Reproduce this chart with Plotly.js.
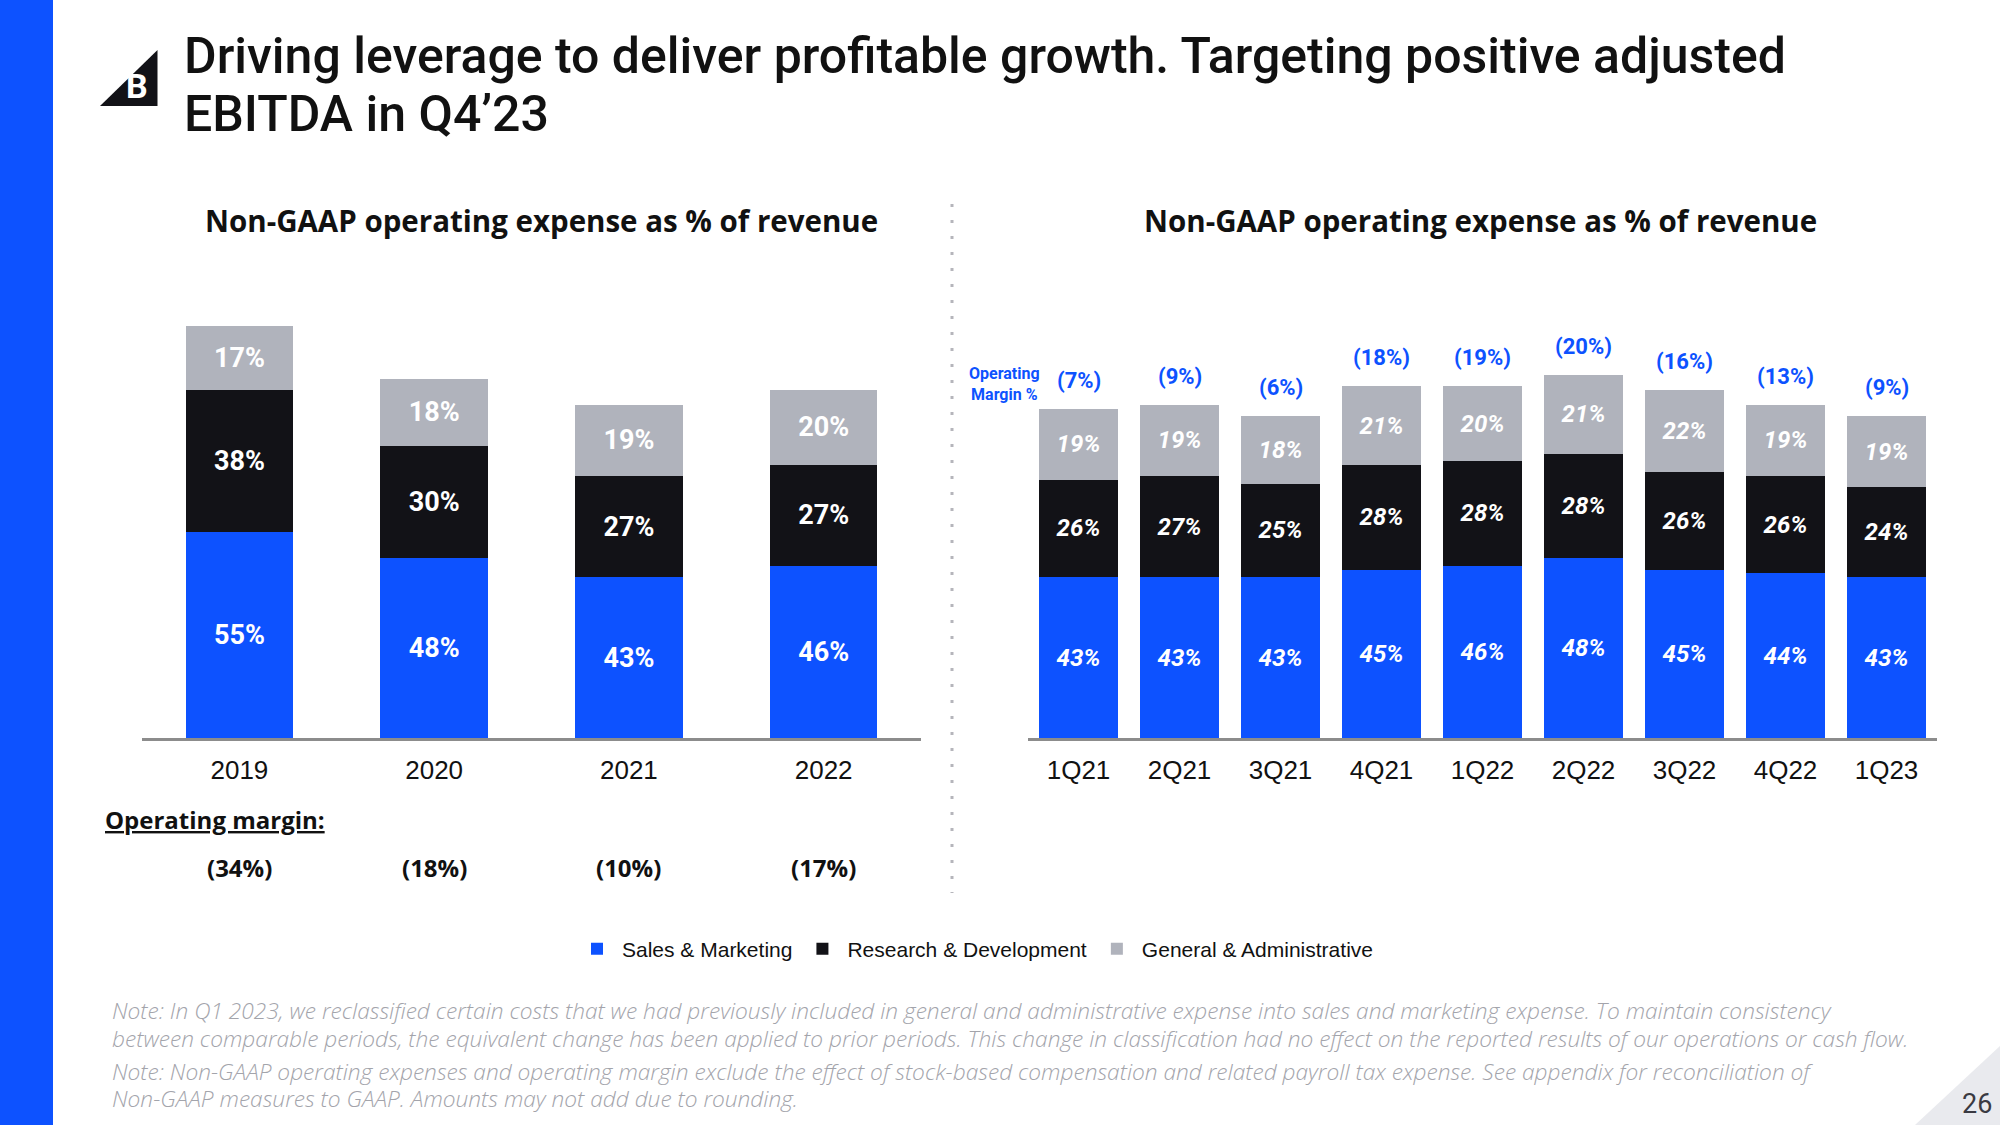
<!DOCTYPE html>
<html>
<head>
<meta charset="utf-8">
<script src="https://cdn.plot.ly/plotly-3.0.1.min.js"></script>
<style>
  html, body { margin: 0; padding: 0; background: #ffffff; }
  #chart { width: 2000px; height: 1125px; }
</style>
</head>
<body>
<div id="chart"></div>
<script>
// ---------------- DATA ----------------
const years = ['2019', '2020', '2021', '2022'];
const annualSalesMarketing = [55, 48, 43, 46];
const annualResearchDev = [38, 30, 27, 27];
const annualGeneralAdmin = [17, 18, 19, 20];
const annualOperatingMargin = [-34, -18, -10, -17];

const quarters = ['1Q21', '2Q21', '3Q21', '4Q21', '1Q22', '2Q22', '3Q22', '4Q22', '1Q23'];
const qSalesMarketing = [43, 43, 43, 45, 46, 48, 45, 44, 43];
const qResearchDev = [26, 27, 25, 28, 28, 28, 26, 26, 24];
const qGeneralAdmin = [19, 19, 18, 21, 20, 21, 22, 19, 19];
const qOperatingMargin = [-7, -9, -6, -18, -19, -20, -16, -13, -9];

const seriesNames = ['Sales & Marketing', 'Research & Development', 'General & Administrative'];
const chartTitle = 'Non-GAAP operating expense as % of revenue';
const pageTitleLines = [
  'Driving leverage to deliver profitable growth. Targeting positive adjusted',
  'EBITDA in Q4’23'
];
const notes = [
  'Note: In Q1 2023, we reclassified certain costs that we had previously included in general and administrative expense into sales and marketing expense. To maintain consistency',
  'between comparable periods, the equivalent change has been applied to prior periods. This change in classification had no effect on the reported results of our operations or cash flow.',
  'Note: Non-GAAP operating expenses and operating margin exclude the effect of stock-based compensation and related payroll tax expense. See appendix for reconciliation of',
  'Non-GAAP measures to GAAP. Amounts may not add due to rounding.'
];

// ---------------- STYLE ----------------
const BLUE = '#0d52ff';
const BLACK = '#121217';
const GREY = '#b0b3bc';
const colors = [BLUE, BLACK, GREY];
const FONT = 'Roboto, "Liberation Sans", Arial, sans-serif';
const WIDE = '"Open Sans", Roboto, Arial, sans-serif';
const ARIAL = '"Liberation Sans", Arial, sans-serif';
const W = 2000, H = 1125;
const px = v => v / W;
const py = v => 1 - v / H;
const fmtPct = v => v < 0 ? '(' + Math.abs(v) + '%)' : v + '%';

const annualSeries = [annualSalesMarketing, annualResearchDev, annualGeneralAdmin];
const qSeries = [qSalesMarketing, qResearchDev, qGeneralAdmin];

const traces = [];
annualSeries.forEach((vals, i) => {
  traces.push({
    type: 'bar', x: years, y: vals, name: seriesNames[i],
    xaxis: 'x', yaxis: 'y',
    marker: { color: colors[i], line: { width: 0 } },
    texttemplate: '%{y}%', textposition: 'inside', insidetextanchor: 'middle',
    textfont: { family: FONT, size: 27, color: '#ffffff', weight: 'bold' },
    constraintext: 'none',
    hoverinfo: 'skip', showlegend: true
  });
});
qSeries.forEach((vals, i) => {
  traces.push({
    type: 'bar', x: quarters, y: vals, name: seriesNames[i],
    xaxis: 'x2', yaxis: 'y2', width: 0.79,
    marker: { color: colors[i], line: { width: 0 } },
    texttemplate: '%{y}%', textposition: 'inside', insidetextanchor: 'middle',
    textfont: { family: FONT, size: 24, color: '#ffffff', weight: 'bold', style: 'italic' },
    constraintext: 'none',
    hoverinfo: 'skip', showlegend: false
  });
});

const qTotals = quarters.map((q, k) => qSeries.reduce((s, arr) => s + arr[k], 0));

const annotations = [];
// page title (two lines)
const titleY = [56, 114];
pageTitleLines.forEach((t, i) => {
  annotations.push({
    xref: 'paper', yref: 'paper', x: px(182), y: py(titleY[i]), xanchor: 'left', yanchor: 'middle',
    text: t, showarrow: false, align: 'left',
    font: { family: FONT, size: 50, color: '#111111', weight: 500 }
  });
});
// logo letter
annotations.push({
  xref: 'paper', yref: 'paper', x: px(137), y: py(86), xanchor: 'center', yanchor: 'middle',
  text: 'B', showarrow: false,
  font: { family: FONT, size: 34, color: '#ffffff', weight: 'bold' }
});
// chart titles
annotations.push({
  xref: 'paper', yref: 'paper', x: px(541), y: py(220), xanchor: 'center', yanchor: 'middle',
  text: chartTitle, showarrow: false,
  font: { family: WIDE, size: 29.5, color: '#111111', weight: 'bold' }
});
annotations.push({
  xref: 'paper', yref: 'paper', x: px(1480), y: py(220), xanchor: 'center', yanchor: 'middle',
  text: chartTitle, showarrow: false,
  font: { family: WIDE, size: 29.5, color: '#111111', weight: 'bold' }
});
// Operating margin (annual)
annotations.push({
  xref: 'paper', yref: 'paper', x: px(103), y: py(819), xanchor: 'left', yanchor: 'middle',
  text: '<b><u>Operating margin:</u></b>', showarrow: false,
  font: { family: WIDE, size: 24, color: '#111111' }
});
years.forEach((yr, k) => {
  annotations.push({
    xref: 'x', yref: 'paper', x: k, y: py(867), xanchor: 'center', yanchor: 'middle',
    text: fmtPct(annualOperatingMargin[k]), showarrow: false,
    font: { family: WIDE, size: 24, color: '#111111', weight: 'bold' }
  });
});
// Operating margin (quarterly) above bars
quarters.forEach((q, k) => {
  annotations.push({
    xref: 'x2', yref: 'y2', x: k, y: qTotals[k], xanchor: 'center', yanchor: 'bottom', yshift: 14,
    text: fmtPct(qOperatingMargin[k]), showarrow: false,
    font: { family: FONT, size: 22, color: BLUE, weight: 'bold' }
  });
});
annotations.push({
  xref: 'paper', yref: 'paper', x: px(1004), y: py(384), xanchor: 'center', yanchor: 'middle',
  text: 'Operating<br>Margin %', showarrow: false, align: 'center',
  font: { family: FONT, size: 16, color: BLUE, weight: 'bold' }
});
// notes
const noteY = [1011, 1038, 1071, 1098];
notes.forEach((t, i) => {
  annotations.push({
    xref: 'paper', yref: 'paper', x: px(110), y: py(noteY[i]), xanchor: 'left', yanchor: 'middle',
    text: t, showarrow: false,
    font: { family: WIDE, size: 22.7, color: '#a3a4ab', style: 'italic', weight: 300 }
  });
});
// page number
annotations.push({
  xref: 'paper', yref: 'paper', x: px(1977), y: py(1104), xanchor: 'center', yanchor: 'middle',
  text: '26', showarrow: false,
  font: { family: FONT, size: 27, color: '#3a3a42' }
});

function triPath(pts) {
  return 'M' + pts.map(p => px(p[0]) + ',' + py(p[1])).join('L') + 'Z';
}

const shapes = [
  // blue strip
  { type: 'rect', xref: 'paper', yref: 'paper', x0: 0, x1: px(53), y0: 0, y1: 1,
    fillcolor: BLUE, line: { width: 0 }, layer: 'below' },
  // logo triangle
  { type: 'path', xref: 'paper', yref: 'paper',
    path: triPath([[157.5, 50], [157.5, 106], [100, 106]]), line: { width: 0 }, fillcolor: BLACK },
  // dotted divider
  { type: 'line', xref: 'paper', yref: 'paper', x0: px(952), x1: px(952), y0: py(204), y1: py(893),
    line: { color: '#b5b5bb', width: 3, dash: '3px,13px' } },
  // corner triangle
  { type: 'path', xref: 'paper', yref: 'paper', path: triPath([[1915, 1125], [2000, 1046], [2000, 1125]]),
    line: { width: 0 }, fillcolor: '#e9eaee', layer: 'below' }
];

const layout = {
  width: W, height: H,
  margin: { l: 0, r: 0, t: 0, b: 0 },
  paper_bgcolor: '#ffffff', plot_bgcolor: 'rgba(0,0,0,0)',
  barmode: 'stack',
  bargap: 0.448,
  font: { family: FONT, color: '#111111' },
  xaxis: {
    domain: [px(142), px(921)], anchor: 'y',
    range: [-0.5, 3.5], type: 'category',
    showline: true, linecolor: '#8c8c8c', linewidth: 2.5,
    showgrid: false, zeroline: false,
    ticks: 'outside', ticklen: 7, tickcolor: 'rgba(0,0,0,0)',
    tickfont: { family: ARIAL, size: 26, color: '#111111' }
  },
  yaxis: {
    domain: [py(738), py(251.5)], anchor: 'x',
    range: [0, 130], visible: false, showgrid: false, zeroline: false
  },
  xaxis2: {
    domain: [px(1028), px(1937)], anchor: 'y2',
    range: [-0.5, 8.5], type: 'category',
    showline: true, linecolor: '#8c8c8c', linewidth: 2.5,
    showgrid: false, zeroline: false,
    ticks: 'outside', ticklen: 7, tickcolor: 'rgba(0,0,0,0)',
    tickfont: { family: ARIAL, size: 26, color: '#111111' }
  },
  yaxis2: {
    domain: [py(738), py(251.5)], anchor: 'x2',
    range: [0, 130], visible: false, showgrid: false, zeroline: false
  },
  showlegend: true,
  legend: {
    orientation: 'h', x: px(572), y: py(949), xanchor: 'left', yanchor: 'middle',
    font: { family: ARIAL, size: 21, color: '#111111' },
    itemwidth: 40,
    bgcolor: 'rgba(0,0,0,0)', traceorder: 'normal', itemclick: false
  },
  annotations: annotations,
  shapes: shapes
};

Plotly.newPlot('chart', traces, layout, { displayModeBar: false, staticPlot: true });
</script>
</body>
</html>
